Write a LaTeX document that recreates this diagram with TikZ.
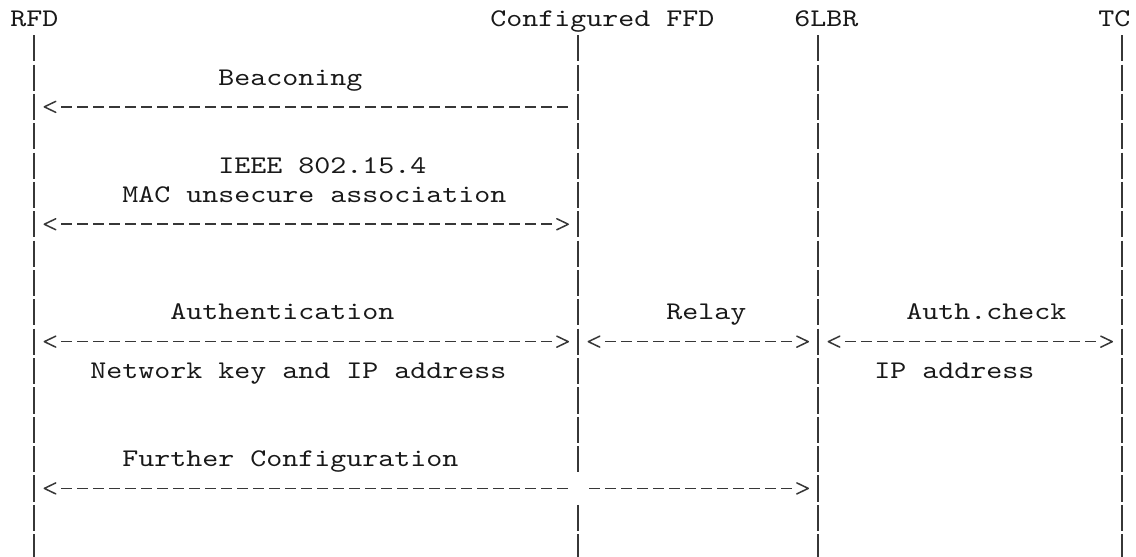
\documentclass[tikz,border=0pt]{standalone}
\usepackage{fontspec}
\newfontfamily\codefont{lmmono10-regular.otf}[FakeStretch=1.2]
\definecolor{ink}{RGB}{25,25,25}
\definecolor{rule}{RGB}{55,55,55}
\tikzset{
  lbl/.style={anchor=base west,inner sep=0pt,outer sep=0pt,text=ink,
    font=\codefont\fontsize{25.4pt}{29pt}\selectfont},
  lifeline/.style={draw=rule,line width=1.8pt,dash pattern=on 26.1pt off 3.25pt},
  msg/.style={draw=rule,line width=1.6pt,dash pattern=on 10.6pt off 5.4pt},
  chev/.style={draw=rule,line width=1.5pt,line join=round,line cap=round},
  lhead/.pic={\draw[chev] (11.5,-5.5) -- (0,0) -- (11.5,5.5);},
  rhead/.pic={\draw[chev] (-11.5,-5.5) -- (0,0) -- (-11.5,5.5);}
}
\begin{document}
\begin{tikzpicture}[x=1pt,y=-1pt]
\useasboundingbox (0,0) rectangle (1136,557);
\fill[white] (0,0) rectangle (1136,557);

% participants
\node[lbl] (rfd) at (10.3,26.3) {RFD};
\node[lbl] (ffd) at (490.3,26.3) {Configured FFD};
\node[lbl] (lbr) at (794.3,26.3) {6LBR};
\node[lbl] (tc)  at (1098.3,26.3) {TC};

% lifelines
\coordinate (rfd-top) at (34.3,35.2);   \coordinate (rfd-bot) at (34.3,565);
\coordinate (ffd-top) at (578.3,35.2);  \coordinate (ffd-bot) at (578.3,565);
\coordinate (ffd-cut1) at (578.3,472.5); \coordinate (ffd-cut2) at (578.3,504.8);
\coordinate (lbr-top) at (818.3,35.2);  \coordinate (lbr-bot) at (818.3,565);
\coordinate (tc-top) at (1122.3,35.2);  \coordinate (tc-bot) at (1122.3,565);
\draw[lifeline] (rfd-top) -- (rfd-bot);
\draw[lifeline] (ffd-top) -- (ffd-cut1);
\draw[lifeline] (ffd-cut2) -- (ffd-bot);
\draw[lifeline] (lbr-top) -- (lbr-bot);
\draw[lifeline] (tc-top) -- (tc-bot);

% labels
\node[lbl] (beacon)  at (218.3,85.0)   {Beaconing};
\node[lbl] (ieee)    at (218.3,173.05) {IEEE 802.15.4};
\node[lbl] (mac)     at (122.3,202.4)  {MAC unsecure association};
\node[lbl] (authn)   at (170.3,319.8)  {Authentication};
\node[lbl] (relay)   at (666.3,319.8)  {Relay};
\node[lbl] (authck)  at (906.3,319.8)  {Auth.check};
\node[lbl] (netkey)  at (90.3,378.5)   {Network key and IP address};
\node[lbl] (ipaddr)  at (874.3,378.5)  {IP address};
\node[lbl] (further) at (122.3,466.55) {Further Configuration};

% beaconing
\coordinate (bcn-a) at (44.3,106.85); \coordinate (bcn-b) at (578.3,106.85);
\draw[msg,shorten <=16.7pt,shorten >=10.7pt] (bcn-a) -- (bcn-b);
\pic at (bcn-a) {lhead};

% association
\coordinate (asc-a) at (44.3,224.25); \coordinate (asc-b) at (568.3,224.25);
\draw[msg,shorten <=16.7pt,shorten >=16.7pt] (asc-a) -- (asc-b);
\pic at (asc-a) {lhead}; \pic at (asc-b) {rhead};

% authentication, relay, check
\coordinate (auth-a) at (44.3,341.65); \coordinate (auth-b) at (568.3,341.65);
\coordinate (rel-a) at (588.3,341.65);  \coordinate (rel-b) at (808.3,341.65);
\coordinate (chk-a) at (828.3,341.65);  \coordinate (chk-b) at (1112.3,341.65);
\draw[msg,shorten <=16.7pt,shorten >=16.7pt] (auth-a) -- (auth-b);
\draw[msg,shorten <=16.7pt,shorten >=16.7pt] (rel-a) -- (rel-b);
\draw[msg,shorten <=16.7pt,shorten >=16.7pt] (chk-a) -- (chk-b);
\pic at (auth-a) {lhead}; \pic at (auth-b) {rhead};
\pic at (rel-a) {lhead};  \pic at (rel-b) {rhead};
\pic at (chk-a) {lhead};  \pic at (chk-b) {rhead};

% further configuration
\coordinate (cfg-a) at (44.3,488.4); \coordinate (cfg-m) at (578.3,488.4);
\coordinate (cfg-b) at (808.3,488.4);
\draw[msg,shorten <=16.7pt,shorten >=10.7pt] (cfg-a) -- (cfg-m);
\draw[msg,shorten <=10.7pt,shorten >=16.7pt] (cfg-m) -- (cfg-b);
\pic at (cfg-a) {lhead}; \pic at (cfg-b) {rhead};
\end{tikzpicture}
\end{document}
